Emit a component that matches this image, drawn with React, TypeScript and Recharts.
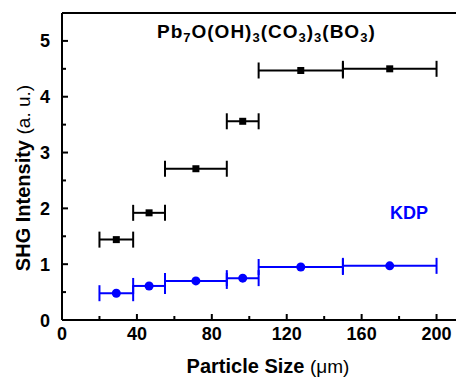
import React from "react";
import { ScatterChart, Scatter, XAxis, YAxis, ErrorBar, ReferenceLine } from "recharts";

const binLow = [20, 38, 55, 88, 105, 150];
const binHigh = [38, 55, 88, 105, 150, 200];
const particleSize = [29, 46.5, 71.5, 96.5, 127.5, 175];
const pbValues = [1.44, 1.92, 2.71, 3.56, 4.47, 4.5];
const kdpValues = [0.48, 0.61, 0.7, 0.75, 0.95, 0.97];
const xTicks = [0, 20, 40, 60, 80, 100, 120, 140, 160, 180, 200, 220];
const yTicks = [0, 0.5, 1, 1.5, 2, 2.5, 3, 3.5, 4, 4.5, 5, 5.5];

const build = (vals: number[]) =>
  vals.map((v, i) => ({
    x: particleSize[i],
    y: v,
    err: [particleSize[i] - binLow[i], binHigh[i] - particleSize[i]],
  }));

const pbData = build(pbValues);
const kdpData = build(kdpValues);

const FONT = "'Liberation Sans', Arial, sans-serif";

const XTick = (props: any) => {
  const { x, y, payload } = props;
  const v = payload.value;
  const major = v % 40 === 0;
  if (v > 200) return null;
  return (
    <g>
      <line x1={x} x2={x} y1={y} y2={y - (major ? 6 : 4)} stroke="#000" strokeWidth={2} />
      {major && (
        <text x={x} y={y + 19.5} textAnchor="middle" fontFamily={FONT} fontWeight="bold" fontSize={18} fill="#000">
          {v}
        </text>
      )}
    </g>
  );
};

const YTick = (props: any) => {
  const { x, y, payload } = props;
  const v = payload.value;
  const major = Number.isInteger(v);
  if (v > 5.2) return null;
  return (
    <g>
      <line x1={x} x2={x + (major ? 6 : 4)} y1={y} y2={y} stroke="#000" strokeWidth={2} />
      {major && (
        <text x={x - 12} y={y + 6.5} textAnchor="end" fontFamily={FONT} fontWeight="bold" fontSize={18} fill="#000">
          {v}
        </text>
      )}
    </g>
  );
};

const Square = (p: any) => <rect x={p.cx - 3.5} y={p.cy - 3.5} width={7} height={7} fill="#000" />;
const Dot = (p: any) => <circle cx={p.cx} cy={p.cy} r={4.5} fill="#0000ff" />;

export default function App() {
  return (
    <div style={{ marginLeft: -8, marginTop: -8, width: 464, height: 377, overflow: "hidden", position: "relative", background: "#fff" }}>
      <ScatterChart width={474} height={377} margin={{ top: 13, right: 0, bottom: 0, left: 0 }}>
        <XAxis
          type="number"
          dataKey="x"
          domain={[0, 220]}
          ticks={xTicks}
          interval={0}
          tickSize={0}
          tickMargin={0}
          tickLine={false}
          tick={<XTick />}
          height={57}
          axisLine={{ stroke: "#000", strokeWidth: 2 }}
          allowDataOverflow
        />
        <YAxis
          type="number"
          dataKey="y"
          domain={[0, 5.5]}
          ticks={yTicks}
          interval={0}
          tickSize={0}
          tickMargin={0}
          tickLine={false}
          tick={<YTick />}
          width={62}
          axisLine={{ stroke: "#000", strokeWidth: 2 }}
          allowDataOverflow
        />
        <ReferenceLine y={5.5} stroke="#000" strokeWidth={2} />
        <Scatter data={pbData} shape={<Square />} isAnimationActive={false}>
          <ErrorBar dataKey="err" direction="x" width={8} stroke="#000" strokeWidth={2} isAnimationActive={false} />
        </Scatter>
        <Scatter data={kdpData} shape={<Dot />} isAnimationActive={false}>
          <ErrorBar dataKey="err" direction="x" width={8} stroke="#0000ff" strokeWidth={2} isAnimationActive={false} />
        </Scatter>
      </ScatterChart>
      <svg width={464} height={377} style={{ position: "absolute", left: 0, top: 0, pointerEvents: "none" }}>
        <text x={157} y={38} fontFamily={FONT} fontWeight="bold" fontSize={19} letterSpacing={1} fill="#000">
          Pb<tspan fontSize={13} dy={4}>7</tspan>
          <tspan dy={-4}>O(OH)</tspan>
          <tspan fontSize={13} dy={4}>3</tspan>
          <tspan dy={-4}>(CO</tspan>
          <tspan fontSize={13} dy={4}>3</tspan>
          <tspan dy={-4}>)</tspan>
          <tspan fontSize={13} dy={4}>3</tspan>
          <tspan dy={-4}>(BO</tspan>
          <tspan fontSize={13} dy={4}>3</tspan>
          <tspan dy={-4}>)</tspan>
        </text>
        <text x={409} y={218.5} textAnchor="middle" fontFamily={FONT} fontWeight="bold" fontSize={18} fill="#0000ff">
          KDP
        </text>
        <text x={268} y={373} textAnchor="middle" fontFamily={FONT} fontWeight="bold" fontSize={20} fill="#000">
          Particle Size <tspan fontWeight="normal" fontSize={19}>(μm)</tspan>
        </text>
        <text x={30} y={178} textAnchor="middle" transform="rotate(-90, 30, 178)" fontFamily={FONT} fontWeight="bold" fontSize={20} fill="#000">
          SHG Intensity <tspan fontWeight="normal" fontSize={19}>(a. u.)</tspan>
        </text>
      </svg>
    </div>
  );
}
